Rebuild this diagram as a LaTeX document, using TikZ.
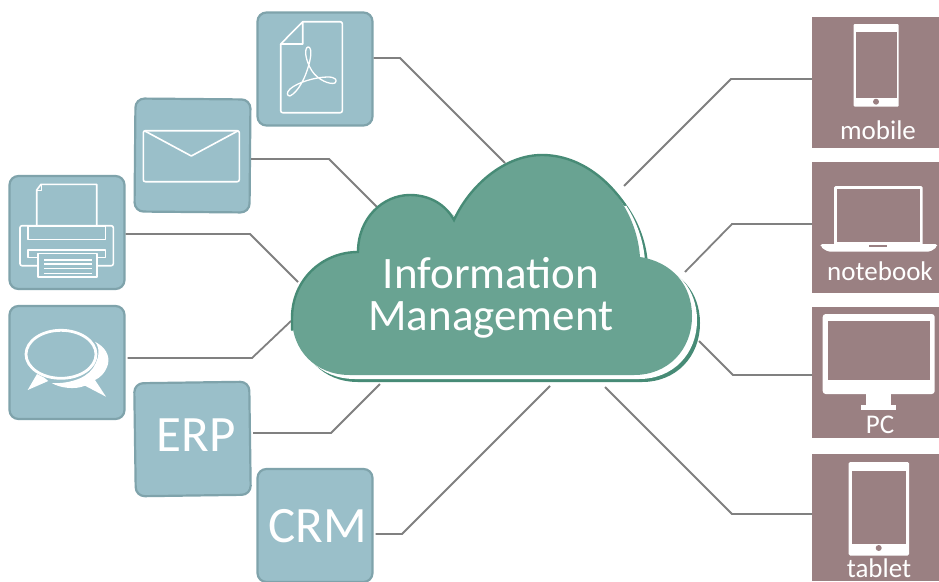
\documentclass[tikz,border=0pt]{standalone}
\usepackage{fontspec}
\setmainfont{Carlito}
\definecolor{boxfill}{HTML}{9ABFC9}
\definecolor{boxedge}{HTML}{7FA3AB}
\definecolor{cloudfill}{HTML}{69A392}
\definecolor{clouddark}{HTML}{478B76}
\definecolor{devfill}{HTML}{9A8082}
\definecolor{wire}{HTML}{808080}
\tikzset{
  appbox/.style={draw=boxedge,fill=boxfill,line width=2.2pt,rounded corners=9pt,minimum width=115pt,minimum height=113pt,inner sep=0pt},
  devbox/.style={fill=devfill,minimum width=127pt,inner sep=0pt},
  wireline/.style={draw=wire,line width=1.8pt,line join=miter},
  iconline/.style={draw=white,line width=1.6pt,line join=round},
  iconfill/.style={fill=white,draw=none},
  devtext/.style={text=white,font=\fontsize{27}{27}\selectfont,anchor=base,inner sep=0pt},
  apptext/.style={text=white,font=\fontsize{51}{51}\selectfont,anchor=base,inner sep=0pt},
}
\newcommand{\cloudpath}{(292,318) .. controls (292,280) and (322,252) .. (358,252)
  .. controls (358,218) and (383,195) .. (410,195)
  .. controls (430,195) and (446,205) .. (454,220)
  .. controls (470,185) and (505,155) .. (542,155)
  .. controls (590,155) and (636,200) .. (640,257)
  .. controls (672,262) and (692,285) .. (692,316)
  .. controls (692,350) and (668,375) .. (634,375)
  -- (350,375) .. controls (315,375) and (292,350) .. (292,318) -- cycle}
\begin{document}
\begin{tikzpicture}[x=1pt,y=-1pt]
\useasboundingbox (0,0) rectangle (939,581);
\fill[white] (0,0) rectangle (939,581);
% boxes
\node[appbox] (pdf) at (315,69) {};
\node[appbox,rotate=-0.5] (mail) at (192.5,155.5) {};
\node[appbox] (printer) at (67,232.5) {};
\node[appbox] (chat) at (67,362.5) {};
\node[appbox,rotate=0.8] (erp) at (192.5,439) {};
\node[appbox] (crm) at (315,525.5) {};
\node[devbox,minimum height=131pt] (mobile) at (875.5,82.2) {};
\node[devbox,minimum height=131pt] (notebook) at (875.5,227.3) {};
\node[devbox,minimum height=131pt] (pc) at (875.5,372.2) {};
\node[devbox,minimum height=127.5pt] (tablet) at (875.5,517.5) {};
% connector geometry
\coordinate (bpdf) at (400,58);   \coordinate (cpdf) at (505,163);
\coordinate (bmail) at (329,159); \coordinate (cmail) at (378,208);
\coordinate (bprinter) at (250,234); \coordinate (cprinter) at (298,282);
\coordinate (bchat) at (252,358); \coordinate (cchat) at (291,321);
\coordinate (berp) at (331,433);  \coordinate (cerp) at (380,384);
\coordinate (bcrm) at (402,534);  \coordinate (ccrm) at (550,386);
\coordinate (bmobile) at (731,79); \coordinate (cmobile) at (624,186);
\coordinate (bnotebook) at (732,224); \coordinate (cnotebook) at (685,272);
\coordinate (bpc) at (733,375);   \coordinate (cpc) at (699,341);
\coordinate (btablet) at (732,514); \coordinate (ctablet) at (605,387);
\draw[wireline] (bpdf -| pdf.east) -- (bpdf) -- (cpdf);
\draw[wireline] (bmail -| mail.east) -- (bmail) -- (cmail);
\draw[wireline] (bprinter -| printer.east) -- (bprinter) -- (cprinter);
\draw[wireline] ([xshift=2pt]bchat -| chat.east) -- (bchat) -- (cchat);
\draw[wireline] ([xshift=2pt]berp -| erp.east) -- (berp) -- (cerp);
\draw[wireline] ([xshift=2pt]bcrm -| crm.east) -- (bcrm) -- (ccrm);
\draw[wireline] (bmobile -| mobile.west) -- (bmobile) -- (cmobile);
\draw[wireline] (bnotebook -| notebook.west) -- (bnotebook) -- (cnotebook);
\draw[wireline] (bpc -| pc.west) -- (bpc) -- (cpc);
\draw[wireline] (btablet -| tablet.west) -- (btablet) -- (ctablet);
% cloud
\fill[clouddark,shift={(8pt,-7pt)}] \cloudpath;
\fill[white,shift={(5pt,-4pt)}] \cloudpath;
\fill[cloudfill] \cloudpath;
\draw[clouddark,line width=2.4pt,line cap=round,line join=miter]
  (292,330) -- (292,318) .. controls (292,280) and (322,252) .. (358,252)
  .. controls (358,218) and (383,195) .. (410,195)
  .. controls (430,195) and (446,205) .. (454,220)
  .. controls (470,185) and (505,155) .. (542,155)
  .. controls (575,155) and (605,175) .. (625,205);
\node[text=white,align=center,inner sep=0pt,anchor=base,font=\fontsize{45}{42.5}\selectfont] (cloudlabel) at (491,330.5) {Information\\Management};
% device labels
\node[devtext] (tmobile) at (878,139) {mobile};
\node[devtext] (tnotebook) at (880,280) {notebook};
\node[devtext] (tpc) at (880,433) {PC};
\node[devtext] (ttablet) at (879,577) {tablet};
% app labels
\node[apptext] (terp) at (196,451) {ERP};
\node[apptext] (tcrm) at (318,542) {CRM};
% mobile icon
\fill[iconfill,rounded corners=1pt] (853.7,24) rectangle (898.7,106.7);
\fill[devfill] (855.7,32) rectangle (896.7,97.7);
\fill[devfill] (876,101.7) circle (3pt);
% notebook icon
\fill[iconfill,rounded corners=1.5pt] (834,186) rectangle (922.7,246);
\fill[devfill] (836.7,188.7) rectangle (920,242);
\fill[iconfill,rounded corners=2pt] (820.7,244) -- (937,244) -- (937,247) -- (930,251.7) -- (828,251.7) -- (820.7,247) -- cycle;
\fill[devfill] (869,245) rectangle (886.7,246.7);
% PC icon
\fill[iconfill,rounded corners=3pt] (822.7,314) rectangle (934.7,394);
\fill[devfill] (828,321) rectangle (930,380);
\fill[iconfill] (866,393) rectangle (891,405);
\fill[iconfill] (861,405) rectangle (896,410);
% tablet icon
\fill[iconfill,rounded corners=1.5pt] (848.7,462) rectangle (909,555.7);
\fill[devfill] (852,471) rectangle (906,544.3);
\fill[devfill] (878.7,548) circle (3pt);
% PDF icon
\draw[iconline,rounded corners=2pt] (302.7,21.7) -- (342.3,21.7) -- (342.3,112.7) -- (280.7,112.7) -- (280.7,44);
\draw[iconline] (280.7,44) -- (302.7,21.7) -- (302.7,44) -- cycle;
\draw[iconline,line width=1.3pt] (290,96) .. controls (298,92) and (306,78) .. (310,60)
  .. controls (312,50) and (310,46.5) .. (308,47)
  .. controls (304,48) and (305,60) .. (312,71)
  .. controls (318,80) and (330,85) .. (335,83)
  .. controls (338,80) and (335,77) .. (328,77)
  .. controls (316,77) and (298,82) .. (290,89)
  .. controls (286,93) and (287,96) .. (290,96);
% mail icon
\draw[iconline,rounded corners=2pt] (143.3,130.7) rectangle (239.3,181.7);
\draw[iconline] (144.3,130.7) -- (191.3,156) -- (238.3,130.7);
% printer icon
\draw[iconline] (36.7,225) -- (36.7,190) -- (41,184.3) -- (96.7,184.3) -- (96.7,225);
\draw[iconline,line width=0.8pt] (36.7,190) -- (41,190) -- (41,184.3);
\draw[iconline,rounded corners=2pt] (20,225.7) rectangle (113.3,265.7);
\draw[iconline] (27.7,225.7) rectangle (105.3,239.3);
\draw[iconline] (27.7,250) rectangle (105.3,257.3);
\draw[iconline,fill=boxfill] (37.7,253.3) rectangle (96.7,276.7);
\draw[iconline,line width=1.1pt] (44,260) -- (91.7,260);
\draw[iconline,line width=1.1pt] (44,264) -- (91.7,264);
\draw[iconline,line width=1.1pt] (44,268.3) -- (91.7,268.3);
\draw[iconline,line width=1.1pt] (44,273.3) -- (91.7,273.3);
% chat icon
\draw[white,line width=2.8pt] (61,354.3) ellipse [x radius=35pt,y radius=24pt];
\fill[iconfill] (37,374) -- (27.7,390) -- (48.3,381) -- (44,377.5) -- cycle;
\fill[iconfill] (95,341.7) .. controls (105,347) and (110,355) .. (108,364)
  .. controls (106,372) and (100,378) .. (95,380) -- (106,396.7) -- (85,385.7)
  .. controls (75,390) and (60,388) .. (51.7,383)
  .. controls (65,384) and (85,380) .. (93,368)
  .. controls (100,357) and (100,348) .. (95,341.7) -- cycle;
\end{tikzpicture}
\end{document}
